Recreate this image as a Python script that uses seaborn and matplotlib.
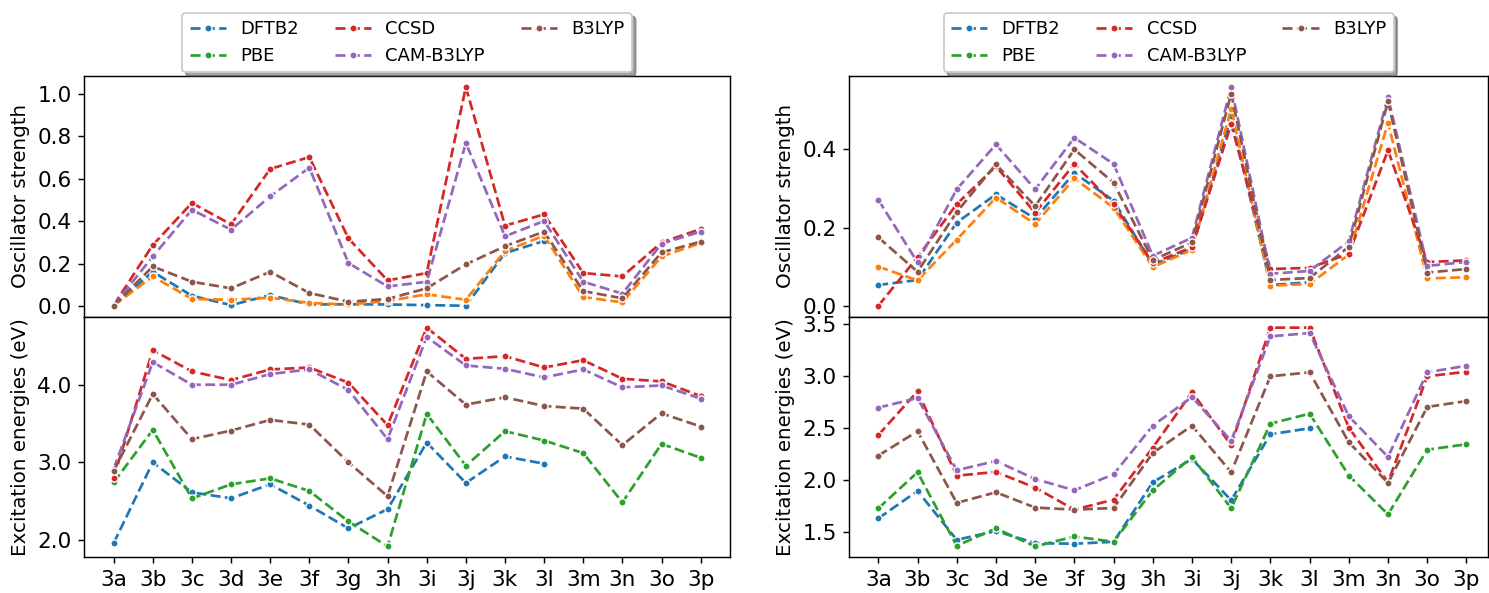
import numpy as np
import pandas as pd
import matplotlib
matplotlib.use("Agg")
import matplotlib.pyplot as plt
from matplotlib.ticker import MultipleLocator
import seaborn as sns

nan = np.nan

systems = ["3a", "3b", "3c", "3d", "3e", "3f", "3g", "3h",
           "3i", "3j", "3k", "3l", "3m", "3n", "3o", "3p"]
methods = ["DFTB2", "PBE", "CCSD", "CAM-B3LYP", "B3LYP"]

# Set 1: oscillator strengths
osc1_dftb2 = [0.003, 0.163, 0.050, 0.006, 0.053, 0.009, 0.010, 0.009,
              0.006, 0.003, 0.251, 0.308, nan, nan, nan, nan]
osc1_pbe = [0.004, 0.141, 0.035, 0.031, 0.041, 0.016, 0.009, 0.025,
            0.057, 0.031, 0.261, 0.333, 0.044, 0.019, 0.235, 0.298]
osc1_ccsd = [0.005, 0.289, 0.487, 0.386, 0.647, 0.703, 0.320, 0.122,
             0.157, 1.033, 0.380, 0.433, 0.157, 0.141, 0.301, 0.364]
osc1_cam = [0.004, 0.235, 0.455, 0.361, 0.518, 0.653, 0.204, 0.094,
            0.116, 0.769, 0.330, 0.402, 0.116, 0.060, 0.295, 0.352]
osc1_b3lyp = [0.003, 0.188, 0.116, 0.085, 0.163, 0.063, 0.022, 0.035,
              0.085, 0.198, 0.283, 0.352, 0.072, 0.038, 0.254, 0.305]

# Set 1: excitation energies (eV)
exc1_dftb2 = [1.961, 3.000, 2.614, 2.538, 2.718, 2.444, 2.150, 2.399,
              3.256, 2.735, 3.077, 2.983, nan, nan, nan, nan]
exc1_pbe = [2.742, 3.419, 2.536, 2.718, 2.795, 2.632, 2.240, 1.918,
            3.624, 2.957, 3.402, 3.282, 3.120, 2.485, 3.239, 3.060]
exc1_ccsd = [2.803, 4.444, 4.171, 4.060, 4.197, 4.222, 4.026, 3.479,
             4.735, 4.333, 4.368, 4.222, 4.316, 4.077, 4.043, 3.855]
exc1_cam = [2.915, 4.291, 4.000, 4.000, 4.137, 4.197, 3.932, 3.299,
            4.615, 4.248, 4.205, 4.094, 4.197, 3.966, 3.991, 3.821]
exc1_b3lyp = [2.889, 3.880, 3.299, 3.410, 3.547, 3.487, 3.000, 2.564,
              4.171, 3.744, 3.838, 3.726, 3.692, 3.222, 3.632, 3.462]

# Set 2: oscillator strengths
osc2_dftb2 = [0.053, 0.066, 0.213, 0.285, 0.223, 0.340, 0.269, 0.105,
              0.145, 0.485, 0.053, 0.060, nan, nan, nan, nan]
osc2_pbe = [0.100, 0.065, 0.169, 0.277, 0.209, 0.326, 0.251, 0.099,
            0.143, 0.504, 0.051, 0.056, 0.131, 0.468, 0.070, 0.073]
osc2_ccsd = [0.000, 0.124, 0.260, 0.357, 0.238, 0.363, 0.260, 0.109,
             0.150, 0.465, 0.094, 0.097, 0.133, 0.398, 0.112, 0.116]
osc2_cam = [0.271, 0.111, 0.298, 0.413, 0.298, 0.430, 0.363, 0.128,
            0.174, 0.560, 0.082, 0.089, 0.165, 0.534, 0.102, 0.112]
osc2_b3lyp = [0.175, 0.087, 0.240, 0.362, 0.255, 0.400, 0.315, 0.117,
              0.162, 0.543, 0.066, 0.071, 0.151, 0.523, 0.085, 0.094]

# Set 2: excitation energies (eV)
exc2_dftb2 = [1.627, 1.891, 1.421, 1.505, 1.389, 1.383, 1.402, 1.974,
              2.199, 1.801, 2.436, 2.494, nan, nan, nan, nan]
exc2_pbe = [1.723, 2.071, 1.363, 1.531, 1.357, 1.453, 1.402, 1.897,
            2.218, 1.724, 2.538, 2.635, 2.039, 1.666, 2.288, 2.340]
exc2_ccsd = [2.429, 2.849, 2.038, 2.074, 1.923, 1.711, 1.807, 2.308,
             2.840, 2.333, 3.462, 3.462, 2.500, 1.974, 2.994, 3.038]
exc2_cam = [2.692, 2.785, 2.090, 2.179, 2.006, 1.897, 2.051, 2.519,
            2.795, 2.372, 3.378, 3.410, 2.609, 2.218, 3.032, 3.096]
exc2_b3lyp = [2.231, 2.465, 1.776, 1.878, 1.731, 1.711, 1.727, 2.256,
              2.519, 2.071, 2.994, 3.032, 2.359, 1.968, 2.699, 2.756]

osc_colors = {"DFTB2": "tab:blue", "PBE": "tab:orange", "CCSD": "tab:red",
              "CAM-B3LYP": "tab:purple", "B3LYP": "tab:brown"}
exc_colors = {"DFTB2": "tab:blue", "PBE": "tab:green", "CCSD": "tab:red",
              "CAM-B3LYP": "tab:purple", "B3LYP": "tab:brown"}


def draw(ax, series, colors):
    x = np.arange(len(systems))
    for name, vals in zip(methods, series):
        df = pd.DataFrame({"x": x, "y": vals}).dropna()
        sns.lineplot(data=df, x="x", y="y", ax=ax, color=colors[name],
                     linestyle="--", marker="o", markersize=4,
                     label=name, legend=False, sort=False)
    ax.set_xlabel("")
    ax.set_ylabel("")


W, H = 1489, 593
fig = plt.figure(figsize=(W / 130, H / 130), dpi=130)

panels = [
    (84.3, 730.0, (-0.75, 15.75),
     [osc1_dftb2, osc1_pbe, osc1_ccsd, osc1_cam, osc1_b3lyp],
     [exc1_dftb2, exc1_pbe, exc1_ccsd, exc1_cam, exc1_b3lyp], 1.0),
    (849.3, 1488.0, (-0.74, 15.55),
     [osc2_dftb2, osc2_pbe, osc2_ccsd, osc2_cam, osc2_b3lyp],
     [exc2_dftb2, exc2_pbe, exc2_ccsd, exc2_cam, exc2_b3lyp], 0.5),
]

y_top, y_mid, y_bot = 76.0, 316.7, 557.4
for x0, x1, xlim, osc, exc, estep in panels:
    ax_t = fig.add_axes([x0 / W, 1 - y_mid / H, (x1 - x0) / W, (y_mid - y_top) / H])
    ax_b = fig.add_axes([x0 / W, 1 - y_bot / H, (x1 - x0) / W, (y_bot - y_mid) / H],
                        sharex=ax_t)
    draw(ax_t, osc, osc_colors)
    draw(ax_b, exc, exc_colors)

    ax_t.set_xlim(*xlim)
    ax_b.set_xticks(np.arange(len(systems)))
    ax_b.set_xticklabels(systems)
    ax_t.tick_params(axis="x", bottom=False, labelbottom=False)
    for ax in (ax_t, ax_b):
        ax.tick_params(labelsize=12)

    ax_t.yaxis.set_major_locator(MultipleLocator(0.2))
    ax_b.yaxis.set_major_locator(MultipleLocator(estep))
    ax_t.yaxis.set_major_formatter(plt.FormatStrFormatter("%.1f"))
    ax_b.yaxis.set_major_formatter(plt.FormatStrFormatter("%.1f"))

    ax_t.set_ylabel("Oscillator strength", fontsize=11)
    ax_b.set_ylabel("Excitation energies (eV)", fontsize=11)
    fig.align_ylabels([ax_t, ax_b])

    handles, labels = ax_b.get_legend_handles_labels()
    ax_t.legend(handles, labels, loc="lower center", bbox_to_anchor=(0.5, 1.0),
                ncol=3, shadow=True, borderaxespad=0.2, fontsize=10)

fig.savefig("out.png", dpi=130)
